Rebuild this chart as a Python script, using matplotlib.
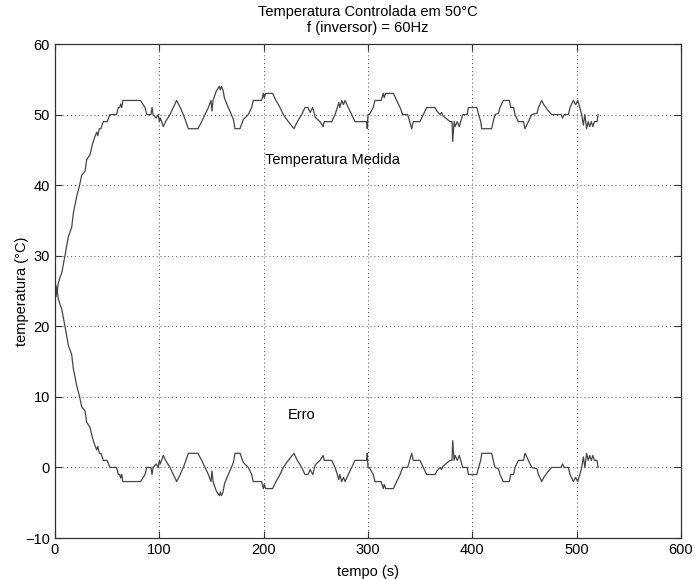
import numpy as np
import matplotlib.pyplot as plt

plt.rcParams['font.family'] = ['Liberation Sans', 'DejaVu Sans']

# ---------------------------------------------------------------------
# Data read from the reference (measured temperature, setpoint 50 C)
# ---------------------------------------------------------------------
setpoint = 50.0

tempo = [
    0, 1, 2, 3, 5, 6.4, 9.6, 12.8, 16, 17.6, 20.8, 23.3, 25.6, 28.8, 30.4,
    33.5, 36.1, 38.3, 40, 41, 42.5, 44, 46.3, 50, 52.7, 59, 60.7, 62, 63, 64,
    65, 82, 86.3, 88, 92, 93, 94, 97, 99, 100, 101, 103.8, 106, 110.2, 113.4,
    116.6, 120, 123, 125.5, 127.8, 137, 140.6, 143.8, 147, 149.5, 150.5,
    151.5, 154.5, 157.5, 158.5, 159.5, 161, 162.5, 165.5, 168.5, 171, 172.5,
    177.3, 180.5, 185.3, 188.5, 190, 198, 199.7, 200.5, 202, 208.6, 211.8,
    215, 218.8, 223.6, 229, 232.3, 236.4, 239.6, 242.5, 244.6, 247, 249.5,
    254, 257, 258, 265.2, 268.4, 270.6, 272, 273, 274.8, 276.5, 278, 281.1,
    284.4, 287.5, 298.7, 299.3, 300, 301.3, 305, 306.7, 312.5, 314.7, 315.5,
    317, 324.3, 327.5, 330.7, 333.3, 338, 341.9, 343.4, 349.8, 353, 356.2,
    364.2, 366, 369, 370.5, 372, 378.6, 380.5, 381.2, 382.5, 383.5, 385.5,
    387.5, 390.8, 395, 396.2, 404.2, 406, 408, 409, 418.5, 420, 421.7, 425,
    426.5, 429.7, 435.5, 436.8, 439.5, 440.9, 444.1, 449, 450.5, 453.7,
    456.9, 462, 463.3, 466.5, 468.5, 470.5, 472.5, 476, 485, 486.5, 488, 492,
    493.6, 496.8, 499, 501, 503, 504.8, 506.4, 507.8, 509.5, 511, 512.5, 514,
    515.5, 517, 519.5, 520.5,
]

temperatura = [
    25, 25.8, 24.6, 26, 27, 27.5, 30, 32.7, 34, 36, 38.4, 39.8, 41.4, 42, 43.6,
    44.3, 45.9, 46.9, 47.5, 47, 48, 48, 49, 49, 50, 50, 51, 51, 51.5, 51,
    52, 52, 51, 50, 50, 51, 50, 49.5, 50, 49, 49.5, 48.3, 49, 50, 51,
    52, 51, 50, 49, 48, 48, 49, 50, 51, 52, 50.5,
    52, 53.3, 54, 53.5, 54, 53.5, 52.3, 51.2, 50.2, 49.3, 48,
    48, 49.3, 50, 51, 52, 52, 53, 52.4, 53, 53, 52,
    51.2, 50, 49, 48, 49, 50, 51, 51, 50.3, 51, 49.6,
    49, 48.3, 49, 49, 50, 51, 51.7, 51, 52, 51.4, 52, 51,
    50, 49, 49, 48, 50, 50, 51, 52, 52, 53, 52.4,
    53, 53, 52, 51, 50, 50, 48, 49, 49, 50, 51,
    51, 50.5, 50, 50.3, 49.8, 49, 49, 46.2, 49, 48.3, 49,
    48.3, 50, 50, 51, 51, 50, 49, 48, 48, 49, 50, 50.2,
    51, 52, 52, 51, 51, 50, 49, 49, 48, 49,
    50, 50.2, 51, 52, 51.4, 51, 50.6, 50, 50, 49.5, 50, 50,
    51, 52, 51.4, 52, 51, 50, 48.5, 50, 48, 49, 48.3, 49,
    48.3, 49, 49, 50,
]

erro = [setpoint - v for v in temperatura]

x_ticks = [0, 100, 200, 300, 400, 500, 600]
y_ticks = [-10, 0, 10, 20, 30, 40, 50, 60]

# ---------------------------------------------------------------------
# Plot
# ---------------------------------------------------------------------
fig = plt.figure(figsize=(6.95, 5.79), dpi=100)
ax = fig.add_axes([0.0791, 0.0708, 0.9008, 0.8532])

ax.plot(tempo, temperatura, color='#454545', lw=0.9)
ax.plot(tempo, erro, color='#454545', lw=0.9)

ax.set_xlim(0, 600)
ax.set_ylim(-10, 60)
ax.set_xticks(x_ticks)
ax.set_yticks(y_ticks)
ax.tick_params(direction='in', length=5, top=True, right=True,
               labelsize=10.5, color='#333333')
ax.grid(True, ls=(0, (1, 3)), color='#555555', lw=0.7)
for s in ax.spines.values():
    s.set_color('#333333')
    s.set_linewidth(0.9)

ax.text(201, 43.6, 'Temperatura Medida', fontsize=10.5, va='center')
ax.text(223, 7.4, 'Erro', fontsize=10.5, va='center')

ax.set_xlabel('tempo (s)', fontsize=10.5, labelpad=6)
ax.set_ylabel('temperatura (°C)', fontsize=10.5, labelpad=-3)
ax.set_title('Temperatura Controlada em 50°C\nf (inversor) = 60Hz',
             fontsize=10.5, pad=9, linespacing=1.1)

fig.savefig('out.png', dpi=100)
